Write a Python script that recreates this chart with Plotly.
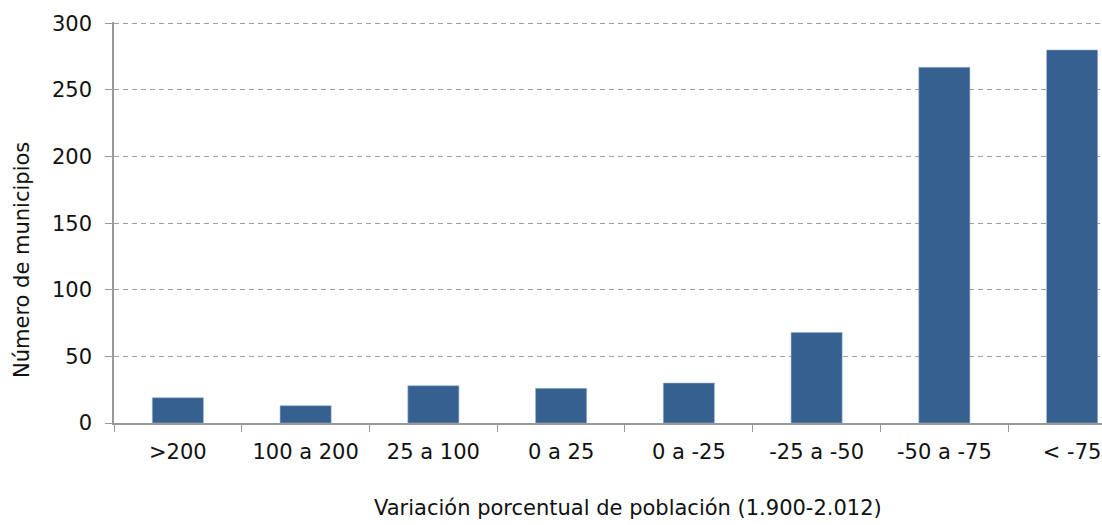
import plotly.graph_objects as go

categories = [">200", "100 a 200", "25 a 100", "0 a 25", "0 a -25", "-25 a -50", "-50 a -75", "< -75"]
values = [19, 13, 28, 26, 30, 68, 267, 280]
y_ticks = [0, 50, 100, 150, 200, 250, 300]

FONT = "DejaVu Sans"
TXT = "#111111"
FS = 21

W, H = 1102, 525
l, r, t, b = 114, 0, 22, 102
YMAX = 301

fig = go.Figure()
fig.add_trace(go.Bar(
    x=categories, y=values, width=0.4,
    marker=dict(color="#36608F", line=dict(color="#9fb3cf", width=0.6)),
))

fig.update_layout(
    width=W, height=H,
    margin=dict(l=l, r=r, t=t, b=b, autoexpand=False),
    paper_bgcolor="white", plot_bgcolor="white",
    showlegend=False,
    font=dict(family=FONT, size=FS, color=TXT),
    xaxis=dict(
        type="category", range=[-0.5, 7.234],
        tickson="boundaries", ticks="outside", ticklen=7, tickcolor="#999999",
        ticklabelstandoff=9,
        showline=True, linecolor="#999999", linewidth=1.5,
        showgrid=False, tickfont=dict(family=FONT, size=FS, color=TXT),
    ),
    yaxis=dict(
        range=[0, YMAX], tickvals=y_ticks,
        ticks="outside", ticklen=7, tickcolor="#999999",
        ticklabelstandoff=9,
        showline=True, linecolor="#999999", linewidth=1.5,
        showgrid=True, gridcolor="#a0a0a0", griddash="5px,4px", gridwidth=1,
        zeroline=False, tickfont=dict(family=FONT, size=FS, color=TXT),
    ),
    annotations=[
        dict(text="Número de municipios", x=22, y=260,
             showarrow=False, textangle=-90, font=dict(family=FONT, size=FS, color=TXT)),
        dict(text="Variación porcentual de población (1.900-2.012)", x=628, y=508,
             showarrow=False, font=dict(family=FONT, size=FS, color=TXT)),
    ],
)

# convert pixel-positioned annotations to paper coords
pw, ph = W - l - r, H - t - b
for a in fig.layout.annotations:
    px, py = a.x, a.y
    a.x = (px - l) / pw
    a.y = (H - b - py) / ph
    a.xref = "paper"; a.yref = "paper"
    a.xanchor = "center"; a.yanchor = "middle"

fig.write_html("out.html", config={"displayModeBar": False},
               post_script="document.body.style.margin='0';document.body.style.overflow='hidden';")
